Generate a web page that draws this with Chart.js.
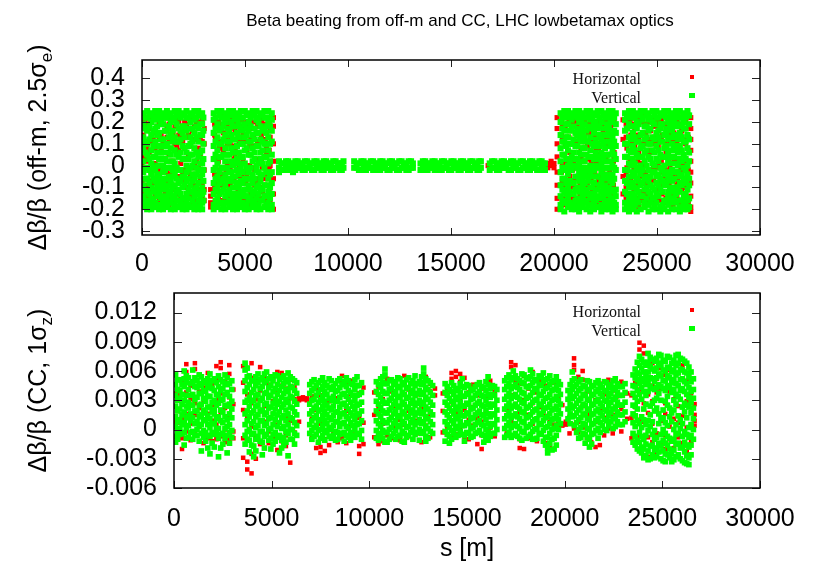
<!DOCTYPE html>
<html>
<head>
<meta charset="utf-8">
<script src="https://cdn.jsdelivr.net/npm/chart.js@4.4.1/dist/chart.umd.min.js"></script>
<style>
  html, body { margin: 0; padding: 0; background: #fff; }
  #wrap { position: relative; width: 817px; height: 571px; }
  #wrap canvas { position: absolute; left: 0; top: 0; }
</style>
</head>
<body>
<div id="wrap">
  <canvas id="offm" width="817" height="571"></canvas>
  <canvas id="cc" width="817" height="571"></canvas>
</div>
<script>
// Tick values
const xTicks = [0, 5000, 10000, 15000, 20000, 25000, 30000];
const offmTicks = [-0.3, -0.2, -0.1, 0, 0.1, 0.2, 0.3, 0.4];
const ccTicks = [-0.006, -0.003, 0, 0.003, 0.006, 0.009, 0.012];

// Off-momentum beta beating, columns of [s (m), Δβ/β in %, ...]
const offmV = [
  // arcs 81 / 12
  [60,24,19,13,8,2,-3,-9,-14,-19],[250,25,22,16,10,5,-1,-6,-12,-16,-20],[450,24,20,14,7,1,-4,-10,-15,-18,-20],
  [640,25,21,17,11,4,-2,-7,-11,-17,-19],[830,25,23,15,9,3,-5,-9,-13,-18,-20],[1020,24,19,12,6,0,-3,-8,-14,-16,-20],
  [1210,25,22,16,10,2,-6,-11,-15,-19],[1400,24,20,14,8,5,-1,-7,-12,-17,-20],[1590,25,21,13,7,1,-4,-9,-14,-18,-20],
  [1780,25,23,17,11,4,-2,-8,-11,-16,-19],[1970,24,18,15,9,3,-5,-10,-15,-18,-20],[2160,25,22,16,6,0,-3,-7,-13,-17,-20],
  [2350,24,20,13,10,5,-1,-9,-12,-19],[2540,25,21,15,8,2,-6,-11,-14,-18,-20],[2730,25,23,17,11,4,-2,-8,-16,-20],
  [2920,24,19,14,7,1,-4,-10,-13,-17,-20],
  [155,22,17,11,6,-1,-6,-11,-16,-18],[350,23,18,12,3,-2,-8,-13,-17,-19],[545,22,16,9,4,-1,-6,-12,-16],
  [735,23,18,14,6,0,-4,-9,-14,-19],[925,21,19,12,6,0,-7,-11,-15,-19],[1115,22,16,9,3,-2,-6,-10,-18],
  [1305,23,18,13,6,-1,-5,-9,-13,-17],[1495,22,16,11,2,-2,-5,-10,-15],[1685,23,19,11,5,-1,-6,-12,-16,-19],
  [1875,22,16,12,6,-2,-7,-13,-17],[2065,23,18,13,8,3,-5,-9,-15,-19],[2255,22,17,9,3,-2,-6,-11,-15,-18],
  [2445,23,17,11,5,0,-4,-7,-12,-16],[2635,22,18,13,6,-1,-4,-10,-13,-19],[2825,23,19,14,6,1,-5,-12,-14,-18],
  [2980,22,16,10,3,-2,-7,-12,-16],
  // arc 23
  [3480,24,21,15,9,3,-2,-8,-13,-18,-20],[3660,25,19,13,7,1,-5,-10,-15,-19],[3850,25,22,17,10,4,-1,-7,-12,-17,-20],
  [4040,24,20,14,8,2,-4,-9,-14,-20],[4230,25,23,16,11,5,-3,-6,-11,-16,-19],[4420,25,18,12,6,0,-5,-10,-15,-18,-20],
  [4610,24,21,15,9,3,-2,-8,-13,-17,-20],[4800,25,22,17,10,4,-1,-7,-12,-19],[4990,25,19,13,7,1,-6,-11,-14,-18,-20],
  [5180,24,20,16,11,5,-3,-9,-16,-20],[5370,25,23,14,8,2,-4,-8,-13,-17,-19],[5560,25,21,15,9,0,-2,-10,-15,-18,-20],
  [5750,24,18,12,6,3,-5,-7,-11,-16,-20],[5940,25,22,17,10,4,-1,-9,-14,-19],[6130,25,20,13,7,1,-6,-12,-17,-20],
  [6300,24,21,16,11,5,-3,-8,-13,-18,-20],
  [3570,22,17,11,5,-1,-6,-11,-16],[3755,23,16,10,4,-3,-8,-13,-17],[3945,22,19,12,5,-1,-6,-11,-17,-18],
  [4135,22,17,11,5,-1,-7,-12,-17],[4325,23,20,14,8,2,-3,-7,-13,-16],[4515,22,18,12,6,1,-5,-10,-15],
  [4705,23,19,13,6,1,-4,-10,-15,-18],[4895,22,16,10,4,-3,-8,-13,-17],[5085,23,17,14,8,-1,-6,-11,-14,-18],
  [5275,22,18,11,5,-1,-6,-11,-15],[5465,23,17,12,6,3,-6,-12,-16],[5655,22,20,15,9,1,-3,-9,-13,-18],
  [5845,23,16,11,7,1,-4,-11,-16],[6035,22,18,15,10,4,-3,-9,-14,-18],[6215,22,18,10,2,-4,-10,-15],
  // straight sections and arcs with small beating
  [6650,2,-1,-3],[6880,1,-2],[7100,2,0,-2],[7330,1,-1,-3],[7560,2,-1],[7790,1,0,-2],[8020,2,-1],[8250,1,-2],
  [8480,2,0,-1],[8710,1,-2],[8940,2,-1],[9170,1,0,-2],[9400,2,-1],[9620,1,-2],[9780,2,-1],
  [6765,1,-2],[6990,2,-1],[7215,1,-2],[7445,2,0,-2],[7675,1,-1],[7905,2,-2],[8135,1,0,-1],[8365,2,-2],
  [8595,1,-1],[8825,2,0,-2],[9055,1,-1],[9285,2,-2],[9510,1,0,-1],[9700,1,-2],
  [10300,2,-1],[10530,1,-2],[10760,2,0,-2],[10990,1,-1],[11220,2,-2],[11450,1,0,-2],[11680,2,-1],[11910,1,-2],
  [12140,2,0,-1],[12370,1,-2],[12600,2,-1],[12830,1,0,-2],[13060,2,-1],
  [10415,1,-1],[10645,2,-2],[10875,1,0,-2],[11105,2,-1],[11335,1,-1],[11565,2,0,-2],[11795,1,-1],[12025,2,-2],
  [12255,1,0,-1],[12485,2,-2],[12715,1,0,-1],[12945,2,-2],[13150,1,-1],
  [13520,1,-2],[13750,2,0,-2],[13980,1,-1],[14210,2,-2],[14440,1,0,-2],[14670,2,-1],[14900,1,-2],[15130,2,0,-1],
  [15360,1,-2],[15590,2,-1],[15820,1,0,-2],[16050,2,-1],[16280,1,-2],[16450,2,-1],
  [13635,2,-1],[13865,1,-2],[14095,2,0,-1],[14325,1,-1],[14555,2,-2],[14785,1,0,-1],[15015,2,-2],[15245,1,-1],
  [15475,2,0,-2],[15705,1,-1],[15935,2,-2],[16165,1,0,-1],[16365,2,-2],
  [16880,1,-2],[17110,2,-1],[17340,1,0,-2],[17570,2,-1],[17800,1,-2],[18030,2,0,-1],[18260,1,-2],[18490,2,-1],
  [18720,1,0,-2],[18950,2,-1],[19180,1,-2],[19400,2,0,-1],[19560,1,-2],
  [16995,2,-1],[17225,1,-2],[17455,2,0,-1],[17685,1,-1],[17915,2,-2],[18145,1,0,-1],[18375,2,-2],[18605,1,-1],
  [18835,2,0,-2],[19065,1,-1],[19290,2,-2],[19480,1,0,-1],
  // arc 78
  [20320,24,20,14,8,2,-3,-9,-14,-18,-20],[20500,25,22,16,11,5,-1,-6,-12,-17,-21],[20680,25,19,13,7,0,-4,-10,-15,-19],
  [20860,24,21,17,10,4,-2,-8,-13,-18,-20],[21040,25,23,15,9,3,-5,-11,-16,-20],[21220,25,20,12,6,1,-3,-7,-12,-17,-21],
  [21400,24,18,14,8,2,-6,-9,-14,-19],[21580,25,22,16,11,5,-1,-5,-11,-16,-20],[21760,25,21,13,7,0,-4,-10,-15,-18,-21],
  [21940,24,19,15,9,3,-2,-8,-13,-17,-20],[22120,25,23,17,10,4,-5,-11,-14,-19],[22300,25,20,12,6,1,-3,-7,-12,-18,-21],
  [22480,24,22,14,8,2,-6,-9,-16,-20],[22660,25,18,16,11,5,-1,-10,-13,-17,-20],[22840,25,21,13,7,0,-4,-8,-15,-19,-21],
  [23000,24,19,15,9,3,-2,-11,-14,-18,-20],
  [20410,22,17,11,5,-1,-6,-11,-16],[20590,23,19,13,9,3,-2,-8,-13,-17],[20770,22,16,10,2,-2,-7,-12,-17],
  [20950,23,18,12,6,0,-8,-13,-18],[21130,22,17,14,9,3,-1,-10,-15,-19],[21310,23,21,16,11,5,-1,-5,-11,-16],
  [21490,22,19,13,8,2,-3,-8,-13,-17],[21670,23,18,11,4,-2,-7,-13,-18],[21850,22,17,10,4,-1,-5,-10,-15,-19],
  [22030,23,20,12,6,0,-5,-11,-16],[22210,22,18,14,9,3,-1,-9,-15,-19],[22390,23,17,10,4,-1,-5,-10,-14],
  [22570,22,19,11,5,-1,-4,-12,-18],[22750,23,20,14,9,2,-6,-7,-11,-15],[22920,22,16,11,5,-1,-6,-12,-17],
  // arc 81 (end of ring)
  [23450,24,21,16,10,4,-2,-7,-12,-17,-20],[23640,25,19,13,7,1,-5,-10,-15,-19,-21],[23830,25,22,15,9,3,-3,-8,-13,-18,-20],
  [24020,24,20,17,11,5,-1,-6,-11,-16,-21],[24210,25,23,14,8,0,-4,-9,-14,-20],[24400,25,18,12,6,2,-6,-11,-17,-19],
  [24590,24,21,16,10,4,-2,-7,-12,-18,-21],[24780,25,20,13,7,1,-3,-10,-15,-20],[24970,25,22,15,9,3,-5,-8,-13,-17,-20],
  [25160,24,19,17,11,5,-1,-6,-11,-19,-21],[25350,25,23,14,8,0,-4,-9,-16,-20],[25540,25,20,12,6,2,-6,-12,-14,-18,-21],
  [25730,24,21,16,10,4,-2,-7,-15,-20],[25920,25,18,13,7,1,-3,-10,-13,-17,-20],[26110,25,22,15,9,3,-5,-8,-12,-19,-21],
  [26300,24,20,17,11,5,-1,-6,-14,-18,-20],[26480,25,23,14,8,0,-4,-11,-16,-20],[26560,23,19,12,6,2,-6,-9,-15,-19],
  [23545,22,17,10,4,-2,-8,-13,-18],[23735,23,18,12,6,0,-5,-10,-16],[23925,22,18,13,7,1,-4,-10,-14,-18],
  [24115,23,19,11,4,-2,-7,-12,-17],[24305,22,21,15,9,4,-2,-8,-14],[24495,23,18,13,7,0,-5,-10,-15],
  [24685,22,17,10,3,-5,-9,-13,-17],[24875,23,19,12,6,0,-3,-11,-15,-18],[25065,22,16,13,7,2,-4,-9,-14],
  [25255,23,19,11,4,-2,-7,-12,-18],[25445,22,17,15,9,4,-3,-8,-16],[25635,23,18,13,7,1,-4,-10,-12,-17],
  [25825,22,20,14,9,4,-6,-11,-15],[26015,23,19,12,6,0,-3,-10,-16],[26205,22,18,13,7,2,-4,-9,-16],
  [26390,22,17,11,3,-2,-8,-13,-17]
];
const offmH = [
  // arcs 81 / 12
  [0,10,7,4,1,-3,-8,-12,-15],[150,21,11,3,-6,-16],[350,17,6,-2,-11,-19],[545,23,12,4,-8,-15],
  [740,18,9,-1,-5,-13,-18],[930,14,7,-6,-10,-16],[1120,22,16,3,-1,-12],[1310,19,12,5,-4,-14,-19],
  [1500,15,2,-3,-9,-17],[1690,21,9,6,-5,-13],[1880,17,13,1,-7,-15,-18],[2070,20,8,-2,-10,-16],
  [2260,22,14,4,-6,-12],[2450,16,11,-1,-4,-15,-18],[2640,19,6,2,-9,-17],[2830,23,13,5,-7,-14],
  [3020,17,10,-2,-11,-16],
  [55,20,14,-1,-6,-17],[245,19,8,2,-9,-14],[440,21,11,-3,-7,-17],[640,15,8,1,-14],[835,20,12,-2,-8,-16],
  [1025,22,10,3,-11,-18],[1215,17,13,-3,-8,-13],[1405,21,11,2,-4,-15],[1595,18,10,-1,-11,-16],
  [1785,20,14,7,-5,-13],[1975,16,11,-3,-7,-17],[2165,19,13,3,-10,-15],[2355,22,9,-4,-6,-14],
  [2545,18,12,0,-9,-16],[2735,20,8,-1,-11,-18],[2925,21,11,3,-8,-15],
  // arc 23
  [3330,-11,-14,-17,-19],[3570,22,12,3,-8,-16],[3760,18,9,-2,-6,-13],[3950,23,15,6,-4,-11,-18],
  [4140,19,10,1,-9,-15],[4330,21,13,-3,-7,-17],[4520,16,8,4,-10,-14],[4710,22,11,-1,-5,-12,-19],
  [4900,18,14,2,-8,-16],[5090,20,7,-4,-11,-18],[5280,23,12,5,-6,-13],[5470,17,9,-2,-9,-15],
  [5660,21,15,3,-7,-19],[5850,19,11,-1,-12,-16],[6040,22,8,6,-5,-14],[6220,16,13,0,-9,-17],
  [6380,22,18,10,2,-6,-13,-20],
  [3525,19,14,-4,-10,-18],[3710,20,11,2,-12,-15],[3900,18,8,-4,-9,-16],[4090,21,13,-2,-6,-17],
  [4280,17,10,-1,-9,-14],[4470,20,9,3,-7,-16],[4660,18,13,-3,-11,-19],[4850,21,12,1,-5,-14],
  [5040,19,11,-3,-8,-16],[5230,17,9,0,-11,-18],[5420,20,13,-1,-7,-14],[5610,18,11,-6,-9,-17],
  [5800,21,14,3,-10,-15],[5990,19,12,-1,-6,-16],[6175,20,7,-2,-11,-17],
  // straight sections
  [16800,0],[19700,1,-1],[19860,2,0],[20000,1,-1],
  // arc 78
  [20150,22,17,10,4,-3,-9,-15,-20],[20410,19,13,1,-7,-16],[20590,23,9,-2,-11,-18],[20770,16,6,-5,-9,-14],
  [20950,21,12,2,-7,-17],[21130,18,14,-1,-10,-15],[21310,22,8,4,-4,-19],[21490,20,11,-3,-8,-13],
  [21670,17,15,3,-6,-16],[21850,23,10,-2,-12,-18],[22030,19,7,1,-9,-14],[22210,21,13,5,-5,-17],
  [22390,16,11,-4,-10,-19],[22570,22,9,2,-7,-15],[22750,18,14,-1,-11,-13],[22920,20,6,3,-6,-18],
  [20365,20,14,-3,-9,-18],[20545,18,10,1,-10,-15],[20725,21,13,-4,-7,-16],[20905,19,10,-2,-10,-15],
  [21085,20,11,0,-6,-17],[21265,17,14,-2,-9,-14],[21445,21,11,5,-11,-16],[21625,19,9,-3,-9,-15],
  [21805,20,12,2,-7,-17],[21985,18,14,-3,-10,-15],[22165,20,8,1,-7,-16],[22345,19,14,-2,-9,-15],
  [22525,20,13,3,-7,-14],[22705,17,12,-3,-9,-16],[22885,21,10,2,-9,-14],
  // arc 81 (end of ring)
  [23350,21,12,-5,-13],[23540,18,8,-1,-9,-16],[23730,22,14,2,-6,-18],[23920,17,9,-4,-9,-14],
  [24110,20,12,6,-7,-15,-19],[24300,23,15,1,-3,-12],[24490,19,10,-5,-10,-17],[24680,16,7,3,-6,-14],
  [24870,21,13,-2,-11,-18],[25060,18,9,1,-8,-16],[25250,22,14,-3,-13,-19],[25440,17,6,4,-9,-15],
  [25630,20,11,-1,-5,-17],[25820,23,15,2,-10,-13],[26010,19,8,-4,-7,-16],[26200,16,12,0,-11,-18],
  [26390,21,10,3,-6,-14],[26520,18,13,-2,-9,-17],[26640,22,17,12,7,2,-3,-8,-14,-19,-21],
  [23500,19,13,-4,-10,-15],[23690,20,10,3,-8,-17],[23880,19,11,-2,-11,-16],[24070,21,14,2,-9,-17],
  [24260,20,10,-1,-5,-16],[24450,19,15,-3,-8,-13],[24640,20,12,6,-9,-15],[24830,18,10,-1,-7,-17],
  [25020,20,11,-1,-11,-15],[25210,21,13,2,-9,-16],[25400,19,10,-2,-6,-17],[25590,18,14,1,-8,-14],
  [25780,20,12,-4,-11,-18],[25970,21,10,2,-9,-14],[26160,19,14,-2,-8,-17],[26350,20,12,1,-10,-15]
];

// Crab-cavity beta beating, columns of [s (m), Δβ/β in units of 1e-3, ...]
const ccV = [
  [80,5.6,4.6,3.5,2.4,1.3,0.3,-0.7,-1.3],[300,5.1,4.0,3.2,2.1,1.0,0.1,-0.5],[520,6.0,5.2,4.4,3.0,1.8,0.7,-0.3,-1.6],
  [740,5.3,4.1,2.8,2.2,1.4,0.4,-0.8],[960,6.1,4.9,3.6,2.5,1.2,-0.2,-1.0],[1180,5.0,4.3,3.3,1.9,0.8,0.0,-0.6],
  [1400,5.4,4.5,3.7,2.6,1.5,0.5,-0.4,-2.2],[1620,4.8,3.9,2.9,1.7,0.9,-0.3,-1.2],[1840,5.7,4.7,3.4,2.3,1.1,0.2,-0.7,-2.5],
  [2060,5.2,4.0,3.0,2.0,1.6,0.6,-0.5,-1.8],[2280,5.5,4.4,3.5,2.7,1.3,0.1,-0.9,-2.8],[2500,4.9,4.2,3.1,1.8,0.7,-0.4,-1.5],
  [2720,5.3,4.6,3.8,2.4,1.0,0.3,-0.6,-2.4],[2960,5.0,4.1,2.9,2.1,1.2,-0.1,-0.8],
  [190,5.1,4.1,3.0,1.9,0.8,-0.2,-1.0],[410,4.6,3.6,2.6,1.5,0.5,-0.4],[630,5.5,4.8,3.5,2.4,1.2,0.2,-0.9],
  [850,4.7,3.5,2.5,1.6,0.9,-0.3],[1070,5.3,4.4,3.1,1.9,0.6,-0.6],[1290,5.6,4.7,3.7,2.5,1.3,0.4,-1.2],
  [1510,5.0,4.0,3.2,2.0,1.0,-0.1,-0.8],[1730,5.2,4.3,3.4,2.3,1.4,0.5,-0.6,-1.9],[1950,5.0,4.2,2.8,1.8,0.6,-0.3,-1.4],
  [2170,4.8,3.6,2.5,1.1,0.1,-0.4],[2390,5.1,4.0,3.0,2.0,0.9,-0.5,-1.9],[2610,5.6,4.7,3.6,2.5,1.3,0.1,-0.9],
  [2840,4.7,3.4,2.6,1.6,0.5,-0.3,-1.4],

  [3640,6.8,6.1,5.0,3.9,2.8,1.6,0.5,-0.6,-1.5],[3860,5.5,4.6,3.3,2.4,1.3,0.0,-1.1,-2.3],[4080,5.0,4.1,3.0,1.9,0.8,-0.4,-1.7,-2.8],
  [4300,5.7,4.8,3.6,2.5,1.5,0.4,-0.7],[4520,5.3,4.4,3.2,2.0,0.9,-0.2,-1.3,-2.6],[4740,5.9,5.0,3.8,2.7,1.7,0.6,-0.5],
  [4960,5.4,4.5,3.5,2.3,1.2,0.1,-0.9,-2.0],[5180,5.6,4.2,3.1,2.1,1.0,-0.3,-1.2],[5400,5.1,4.0,2.9,1.8,0.7,-0.6,-2.4],
  [5620,5.5,4.7,3.7,2.6,1.4,0.3,-0.8,-1.6],[5840,5.8,4.9,3.9,2.8,1.6,0.5,-0.4,-2.7],[6060,5.2,4.3,3.3,2.2,1.1,0.0,-1.0],
  [6280,4.8,3.7,2.6,1.5,0.4,-0.6],
  [3750,6.3,5.4,4.3,3.0,1.9,0.9,-0.2,-1.0],[3970,5.0,3.8,2.9,1.7,0.6,-0.5,-1.6],[4190,5.4,4.5,3.5,2.4,1.3,0.2,-1.0,-2.2],
  [4410,5.1,4.2,3.0,1.9,0.9,-0.2,-1.2],[4630,5.7,4.8,3.7,2.6,1.5,0.4,-0.7,-1.9],[4850,5.2,4.3,3.3,2.2,1.1,0.0,-1.1],
  [5070,5.0,3.9,2.7,1.6,0.5,-0.5,-1.5],[5290,5.5,4.6,3.6,2.6,1.5,0.3,-0.8],[5510,5.3,4.4,3.3,2.3,1.2,0.1,-1.1,-1.9],
  [5730,5.1,4.1,3.1,2.0,0.9,-0.2,-1.3],[5950,5.4,4.4,3.4,2.3,1.2,0.0,-1.0],[6170,5.0,4.0,2.9,1.8,0.7,-0.4,-1.5],

  [6950,4.6,3.7,2.6,1.6,0.5,-0.4],[7170,5.1,4.2,3.1,2.2,1.2,0.2,-0.7],[7390,4.8,3.8,2.8,1.9,0.9,-0.1,-1.3],
  [7610,5.3,4.4,3.4,2.4,1.4,0.4,-0.6],[7830,4.5,3.6,2.5,1.5,0.6,-0.3],[8050,5.0,4.1,3.0,2.0,1.0,0.0,-0.9],
  [8270,4.7,3.9,2.9,1.8,0.8,-0.2,-1.1],[8490,5.2,4.3,3.3,2.3,1.3,0.3,-0.5],[8710,4.9,3.7,2.7,1.7,0.7,-0.3,-1.2],
  [8930,5.0,4.0,3.1,2.1,1.1,0.1,-0.8],[9150,4.6,3.5,2.4,1.4,0.4,-0.6],[9370,5.4,4.5,3.5,2.5,1.5,0.5,-0.4],
  [9600,4.8,3.8,2.8,1.9,0.9,-0.1,-1.0],
  [7060,4.9,4.0,3.0,1.9,0.9,-0.1,-1.0],[7280,4.5,3.5,2.4,1.4,0.4,-0.5],[7500,5.0,4.1,3.0,2.0,1.0,0.0,-0.9],
  [7720,4.8,3.9,2.9,1.9,0.9,-0.1,-1.1],[7940,5.2,4.3,3.2,2.2,1.2,0.2,-0.7],[8160,4.4,3.4,2.4,1.4,0.4,-0.6],
  [8380,5.0,4.0,2.9,1.8,0.8,-0.3,-1.0],[8600,4.6,3.6,2.6,1.6,0.6,-0.4],[8820,5.3,4.4,3.4,2.4,1.3,0.3,-0.6],
  [9040,4.7,3.8,2.8,1.7,0.7,-0.3,-1.1],[9260,5.1,4.1,3.0,2.0,1.0,0.0,-0.8],[9480,4.5,3.6,2.6,1.6,0.6,-0.5],

  [10360,4.9,3.9,2.9,1.9,0.9,-0.1,-0.9],[10580,5.2,4.3,3.3,2.3,1.3,0.3,-0.6],[10800,6.2,5.6,4.7,3.7,2.7,1.7,0.7,-0.3,-1.3],
  [11020,5.0,4.1,3.0,2.0,1.0,0.0,-1.0],[11240,4.6,3.6,2.6,1.6,0.6,-0.4],[11460,5.3,4.4,3.4,2.4,1.4,0.4,-0.7],
  [11680,4.8,3.8,2.8,1.8,0.8,-0.2,-1.2],[11900,5.1,4.2,3.2,2.2,1.2,0.2,-0.8],[12120,4.7,3.7,2.7,1.7,0.7,-0.3],
  [12340,5.5,4.5,3.5,2.5,1.5,0.5,-0.5],[12560,4.9,4.0,3.0,2.0,1.0,0.0,-1.1],[12780,6.3,5.7,4.8,3.8,2.8,1.8,0.8,-0.2],
  [13000,5.0,4.1,3.1,2.1,1.1,0.1,-0.9],[13240,4.5,3.5,2.5,1.5,0.5,-0.4],
  [10470,4.6,3.6,2.6,1.6,0.6,-0.4,-1.1],[10690,5.4,4.8,3.9,2.9,1.9,0.9,-0.1,-0.9],[10910,4.7,3.7,2.7,1.7,0.7,-0.3,-1.3],
  [11130,5.1,4.2,3.2,2.2,1.2,0.2,-0.7],[11350,4.9,3.9,2.9,1.9,0.9,-0.1,-1.0],[11570,5.2,4.3,3.3,2.3,1.3,0.3,-0.6],
  [11790,4.6,3.6,2.6,1.6,0.6,-0.4,-1.3],[12010,5.3,4.3,3.3,2.3,1.3,0.3,-0.6],[12230,5.0,4.0,3.0,2.0,1.0,0.0,-1.0],
  [12450,4.7,3.7,2.7,1.7,0.7,-0.3],[12670,5.4,4.6,3.6,2.6,1.6,0.6,-0.4],[12890,5.2,4.3,3.3,2.3,1.3,0.3,-0.7,-1.2],
  [13120,4.8,3.8,2.8,1.8,0.8,-0.2],

  [13880,4.7,3.8,2.8,1.8,0.8,-0.2,-1.2],[14100,4.1,3.2,2.2,1.2,0.2,-0.7,-1.4],[14320,4.5,3.6,2.6,1.6,0.6,-0.4],
  [14540,4.2,3.3,2.3,1.3,0.3,-0.6],[14760,5.2,4.4,3.4,2.4,1.4,0.4,-0.5],[14980,4.6,3.7,2.7,1.7,0.7,-0.3],
  [15200,4.0,3.1,2.1,1.1,0.1,-0.8],[15420,4.4,3.5,2.5,1.5,0.5,-0.4],[15640,4.8,3.9,2.9,1.9,0.9,-0.1],
  [15860,4.3,3.4,2.4,1.4,0.4,-0.6,-1.3],[16080,5.4,4.6,3.6,2.6,1.6,0.6,-0.3,-1.1],[16300,4.5,3.6,2.6,1.6,0.6,-0.4],
  [16530,4.1,3.0,2.0,1.0,0.0],
  [13990,4.4,3.5,2.5,1.5,0.5,-0.5],[14210,4.8,3.9,2.9,1.9,0.9,-0.1,-1.0],[14430,4.0,3.1,2.1,1.1,0.1,-0.8],
  [14650,4.7,3.8,2.8,1.8,0.8,-0.2],[14870,4.3,3.4,2.4,1.4,0.4,-0.6,-1.2],[15090,4.5,3.6,2.6,1.6,0.6,-0.4],
  [15310,4.1,3.2,2.2,1.2,0.2,-0.7],[15530,4.6,3.7,2.7,1.7,0.7,-0.3],[15750,4.4,3.5,2.5,1.5,0.5,-0.5],
  [15970,4.9,4.0,3.0,2.0,1.0,0.0,-0.8],[16190,4.2,3.3,2.3,1.3,0.3,-0.7],[16410,4.4,3.5,2.5,1.5,0.5,-0.4],

  [16930,5.0,4.1,3.1,2.1,1.1,0.1,-0.8],[17150,5.6,4.7,3.7,2.7,1.7,0.7,-0.3],[17370,6.0,5.3,4.4,3.4,2.4,1.4,0.4,-0.6],
  [17590,5.2,4.3,3.3,2.3,1.3,0.3,-0.7],[17810,5.7,4.8,3.8,2.8,1.8,0.8,-0.2,-1.1],[18030,5.3,4.4,3.2,2.2,1.2,0.2,-0.9],
  [18250,6.1,5.4,4.5,3.5,2.5,1.5,0.5,-0.5],[18470,5.1,4.2,3.0,2.0,1.0,0.0,-1.0],[18690,5.5,4.6,3.6,2.6,1.6,0.6,-0.4],
  [18910,5.8,4.9,3.9,2.9,1.9,0.9,-0.1,-1.2],[19130,5.2,4.3,3.3,2.3,1.3,0.3,-0.8,-1.9,-2.4],[19350,4.9,4.0,3.0,2.0,1.0,0.0,-1.0,-2.1],
  [19570,5.4,4.4,3.4,2.4,1.4,0.4,-0.6,-1.6],[19780,4.6,3.6,2.6,1.6,0.6],
  [17040,5.3,4.4,3.4,2.4,1.4,0.4,-0.6],[17260,5.1,4.2,3.2,2.2,1.2,0.2,-0.8],[17480,5.5,4.6,3.6,2.6,1.6,0.6,-0.4],
  [17700,5.0,4.1,3.1,2.1,1.1,0.1,-0.9],[17920,5.6,4.7,3.7,2.7,1.7,0.7,-0.3],[18140,5.2,4.3,3.3,2.3,1.3,0.3,-0.7],
  [18360,5.7,4.8,3.8,2.8,1.8,0.8,-0.2,-1.0],[18580,5.0,4.1,3.1,2.1,1.1,0.1,-0.9],[18800,5.4,4.5,3.5,2.5,1.5,0.5,-0.5],
  [19020,5.1,4.2,3.2,2.2,1.2,0.2,-0.8,-1.6],[19240,5.5,4.6,3.6,2.6,1.6,0.6,-0.4,-1.4],[19460,5.0,4.1,3.1,2.1,1.1,0.1,-0.9,-2.0],
  [19680,4.9,4.0,3.0,2.0,1.0,0.0],

  [20170,4.0,3.1,2.1,1.1],[20390,5.9,5.0,4.1,3.2,2.2,1.3],[20610,4.6,3.7,2.7,1.7,0.7,-0.3],
  [20830,5.1,4.2,3.2,2.2,1.2,0.2,-0.8],[21050,4.4,3.5,2.5,1.5,0.5,-0.5,-1.4],[21270,4.9,4.0,3.0,2.0,1.0,0.0,-1.0,-1.8],
  [21490,4.5,3.6,2.6,1.6,0.6,-0.4],[21710,5.0,4.1,3.1,2.1,1.1,0.1,-0.9],[21930,4.3,3.4,2.4,1.4,0.4],
  [22150,4.8,3.9,2.9,1.9,0.9,-0.1],[22370,4.6,3.7,2.8,1.8,0.8],[22590,5.2,4.3,3.3,2.3,1.3,0.3],
  [22810,4.4,3.5,2.5,1.5,0.5],[23090,4.7,3.8,2.8,1.8,0.8],
  [20280,4.6,3.6,2.6,1.6,0.6],[20500,5.2,4.4,3.4,2.4,1.4,0.4],[20720,4.9,4.0,3.0,2.0,1.0,0.0,-0.9],
  [20940,4.5,3.6,2.6,1.6,0.6,-0.4],[21160,5.0,4.1,3.1,2.1,1.1,0.1,-0.8],[21380,4.4,3.5,2.5,1.5,0.5,-0.5,-1.5],
  [21600,4.8,3.9,2.9,1.9,0.9,-0.1],[21820,4.6,3.7,2.7,1.7,0.7,-0.3],[22040,4.9,4.0,3.0,2.0,1.0,0.0],
  [22260,4.3,3.4,2.4,1.4,0.4],[22480,5.0,4.1,3.1,2.1,1.1,0.1],[22700,4.7,3.8,2.8,1.8,0.8],[22950,4.4,3.5,2.5,1.5,0.5],

  [23500,5.6,4.5,3.7,2.5,1.6,0.7,-0.4,-1.3],[23720,6.9,5.8,5.1,4.0,2.9,2.1,0.9,-1.1,-2.0],
  [23940,7.2,6.3,5.2,4.3,3.1,1.3,0.2,-0.7,-1.8,-2.4],[24160,6.6,5.4,4.6,3.5,2.6,0.5,-0.6,-1.5,-2.7],
  [24380,7.4,6.5,5.3,4.4,2.4,1.5,0.3,-1.7,-3.0],[24600,7.0,6.0,4.9,4.1,3.0,1.9,-0.1,-1.0,-2.1,-2.9],
  [24820,7.7,6.8,5.7,4.6,3.7,1.6,0.6,-1.4,-2.3],[25040,7.1,6.1,5.0,4.2,2.0,1.2,0.0,-1.1,-2.2,-3.2],
  [25260,7.5,6.4,5.5,4.5,3.4,2.5,0.4,-0.7,-1.6,-2.6],[25480,6.8,5.9,4.8,3.8,1.7,0.8,-1.2,-2.5,-3.3],
  [25700,7.6,6.6,5.6,4.7,3.6,2.6,0.5,-0.5,-1.5,-2.8],[25920,7.3,6.2,5.1,4.0,3.1,1.0,0.1,-1.9,-3.0],
  [26140,7.0,5.9,4.9,3.9,2.7,1.8,-0.2,-1.3,-2.3,-3.4],[26360,6.4,5.4,4.3,3.3,2.3,0.2,-0.8,-1.8,-2.9,-3.6],
  [26590,5.2,4.1,3.2,2.2,1.1,0.0,-1.0],
  [23610,6.2,5.3,4.4,3.3,2.4,1.4,0.3,-0.7,-1.6],[23830,7.5,6.6,5.7,4.7,3.6,0.6,-0.3,-1.3,-2.2],
  [24050,6.9,5.9,4.9,3.9,2.1,1.0,-1.0,-2.0,-2.9],[24270,7.8,6.9,5.9,4.9,3.9,0.9,-0.1,-2.2,-3.1],
  [24490,7.2,6.2,5.2,4.2,2.7,0.8,-0.5,-1.6,-2.6],[24710,7.3,6.3,5.3,4.3,3.2,2.2,-0.8,-1.9,-2.8],
  [24930,7.6,6.6,5.5,4.4,3.0,1.1,-0.5,-1.7,-3.0],[25150,7.0,6.0,5.0,4.0,2.9,0.7,-0.4,-1.4,-2.5,-3.3],
  [25370,7.4,6.3,5.3,4.3,2.2,1.3,-0.9,-2.0,-2.9],[25590,7.1,6.1,5.1,4.1,3.0,2.0,0.0,-1.0,-2.1,-3.1],
  [25810,7.7,6.8,5.8,4.5,3.4,1.4,-0.4,-1.4,-2.6],[26030,7.2,6.1,5.2,4.2,2.3,0.6,-0.7,-1.8,-3.2],
  [26250,6.8,5.8,4.7,3.6,2.5,1.2,-0.5,-1.6,-2.7,-3.5],[26470,5.9,4.9,3.9,2.8,1.7,0.5,-0.6,-1.6,-2.6]
];
const ccH = [
  [0,3.7,0.8],[190,3.6,1.9,0.7,-0.4],[410,4.8,2.6,1.2,-0.9,-2.0],[630,6.7,5.9,3.8,1.6,-0.2],[850,4.5,3.1,0.6,-1.1],
  [1070,6.8,6.2,2.7,1.5,-0.5],[1290,5.6,3.9,2.2,0.3],[1510,4.3,2.9,1.0,-0.8,-1.4],[1730,5.8,3.4,1.6,-0.9],
  [1950,4.7,2.5,0.9,-1.2],[2170,6.5,5.2,3.0,0.5,-1.0],[2390,6.9,6.3,3.7,1.8,-0.7],[2610,4.9,2.2,0.0,-1.3],
  [2830,6.6,5.7,3.3,1.4,-1.1],[3040,4.1,2.6,-0.2,-0.9],

  [3540,6.5,4.8,2.0,-0.9,-2.9],[3750,6.3,3.6,1.2,-3.3,-4.1],[3970,6.8,5.3,2.7,0.3,-2.5,-4.5],[4190,5.0,3.1,-0.7,-3.0],
  [4410,6.4,4.0,1.9,-1.5],[4630,5.5,2.4,0.8,-1.9],[4850,4.6,3.4,-0.2,-1.4],[5070,5.2,2.9,1.6,-0.9],
  [5290,5.9,3.8,0.5,-2.1],[5510,5.8,4.5,2.3,-1.2],[5730,4.2,1.3,-0.6,-1.7],[5950,5.1,3.2,0.9,-3.4],
  [6170,4.4,3.1,1.8,-0.3],[6400,3.2,3.0,0.8],[6600,3.1,3.3],[6800,3.0,3.2],

  [7060,3.4,1.1,-0.8],[7280,4.2,2.0,-0.5,-1.9],[7500,3.5,0.6,-1.8,-2.4],[7720,4.6,1.7,-1.0,-2.2],
  [7940,2.9,0.2,-1.6],[8160,4.1,1.4,-0.4,-0.9],[8380,3.2,0.8,-1.3],[8600,5.5,4.9,2.6,-0.9],
  [8820,5.3,4.6,1.9,-1.4],[9040,5.0,3.6,0.5,-1.1],[9260,4.4,2.2,-0.5],[9480,3.7,1.2,-1.7,-2.5],[9700,4.3,0.7,-1.5],

  [10250,3.8,1.5,-0.8],[10470,4.4,2.1,-1.5],[10690,3.1,0.6,-1.2],[10910,5.2,2.7,-0.6],[11130,3.9,1.3,-0.9],
  [11350,4.6,2.4,0.2],[11570,3.3,1.0,-1.1],[11790,5.5,3.6,0.5],[12010,4.1,1.9,-0.7],[12230,5.0,2.8,-1.0],
  [12450,3.6,0.9,-0.4],[12670,4.8,2.2,-1.3],[12890,5.4,3.2,0.4],[13110,4.7,3.9,1.6,-0.8],[13360,4.2,3.5],

  [13760,3.7,1.9,-0.3],[13990,4.0,2.5,0.3],[14210,5.8,5.2,2.8,-0.9],[14430,6.0,5.4,1.7,-0.5],[14650,5.7,4.9,3.0,0.1],
  [14870,5.3,2.0,-0.8],[15090,3.8,1.0,-1.0],[15310,4.6,2.3,0.4],[15530,3.5,1.2,-1.5],[15750,4.2,0.8,-0.6,-2.0],
  [15970,3.3,1.7,-1.1],[16190,5.0,4.5,2.6,0.2],[16420,3.9,1.5,-0.7],

  [17040,4.4,2.0,-0.4],[17260,6.9,6.4,3.5,0.9],[17480,6.6,5.1,2.6,-0.6],[17700,4.7,1.8,-1.0,-1.9],
  [17920,5.5,3.0,-0.3,-2.0],[18140,4.2,1.5,-0.9],[18360,5.9,2.7,0.6],[18580,3.8,1.1,-1.2],[18800,5.0,2.3,-0.5],
  [19020,4.5,1.4,-1.4],[19240,3.6,0.8,-1.7],[19460,4.8,2.1,0.5],[19680,3.4,0.7,0.3],[19880,2.5,0.6,0.4],[20060,0.8,0.5],

  [20250,1.3,0.6,-0.4],[20480,7.3,6.6,6.1,0.5,0.1],[20700,5.4,0.8,-0.3],[20920,6.0,5.1,2.4,0.2],[21140,3.9,1.6,-0.9],
  [21360,4.4,2.5,-1.3],[21580,3.0,0.8,-1.8],[21800,4.7,1.9,-1.6],[22020,3.6,1.2,-0.6],[22240,5.1,2.6,0.1],
  [22460,4.0,1.5,-0.4],[22680,3.4,0.6],[22900,4.9,2.1,-0.2],[23200,3.7,1.1],

  [23420,3.5,1.2,-0.9],[23610,4.8,2.3,0.3,-1.6],[23830,8.9,8.2,4.1,1.0,-0.7],[24050,8.6,7.8,2.7,0.8,-1.9],
  [24270,5.9,3.6,1.7,-0.8,-2.8],[24490,6.8,4.5,2.9,0.6,-1.3],[24710,5.2,3.8,1.9,-0.4,-2.4],[24930,6.3,4.2,0.9,-1.6],
  [25150,5.6,2.7,1.6,-0.6,-2.0],[25370,6.1,3.9,0.3,-1.0],[25590,4.9,3.1,1.1,-1.9],[25810,5.8,2.4,0.7,-0.8],
  [26030,6.6,4.0,1.4,-1.4],[26250,5.0,2.9,0.2,-2.2],[26470,3.7,1.8,0.5,-1.2],[26650,2.6,1.5,0.9,0.4]
];

// ---------------------------------------------------------------------------
const RED = '#ff0000';
const GREEN = '#00ff00';
const SANS = '"Liberation Sans", Arial, Helvetica, sans-serif';
const SERIF = '"Liberation Serif", "Times New Roman", serif';

function toPoints(cols, unit) {
  const pts = [];
  cols.forEach(c => {
    for (let i = 1; i < c.length; i++) pts.push({ x: c[0], y: c[i] * unit });
  });
  return pts;
}

// Frame with inward ticks, key, and the rotated y title with a subscript
const framePlugin = {
  id: 'frame',
  afterDraw(chart, args, o) {
    const { ctx, chartArea: a, scales } = chart;
    ctx.save();
    ctx.strokeStyle = '#222';
    ctx.lineWidth = 1;
    ctx.beginPath();
    scales.x.ticks.forEach(t => {
      const px = Math.round(scales.x.getPixelForValue(t.value)) + 0.5;
      ctx.moveTo(px, a.top); ctx.lineTo(px, a.top + 7);
      ctx.moveTo(px, a.bottom); ctx.lineTo(px, a.bottom - 7);
    });
    scales.y.ticks.forEach(t => {
      const py = Math.round(scales.y.getPixelForValue(t.value)) + 0.5;
      ctx.moveTo(a.left, py); ctx.lineTo(a.left + 8, py);
      ctx.moveTo(a.right, py); ctx.lineTo(a.right - 8, py);
    });
    ctx.stroke();
    ctx.strokeStyle = '#000';
    ctx.lineWidth = 1.5;
    ctx.strokeRect(a.left, a.top, a.right - a.left, a.bottom - a.top);

    // key
    ctx.fillStyle = '#111';
    ctx.font = '16px ' + SERIF;
    ctx.textAlign = 'right';
    ctx.textBaseline = 'middle';
    ctx.fillText('Horizontal', a.right - 119, a.top + 20);
    ctx.fillText('Vertical', a.right - 119, a.top + 39);
    ctx.fillStyle = RED;
    ctx.fillRect(a.right - 70, a.top + 15, 4, 4);
    ctx.fillStyle = GREEN;
    ctx.fillRect(a.right - 71, a.top + 33, 6, 5);

    // y title
    const big = '25px ' + SANS, small = '17px ' + SANS;
    ctx.fillStyle = '#000';
    ctx.translate(37, (a.top + a.bottom) / 2);
    ctx.rotate(-Math.PI / 2);
    ctx.textAlign = 'left';
    ctx.textBaseline = 'alphabetic';
    ctx.font = big;
    const w1 = ctx.measureText(o.yMain).width;
    const w3 = ctx.measureText(')').width;
    ctx.font = small;
    const w2 = ctx.measureText(o.ySub).width;
    let cx = -(w1 + w2 + w3) / 2;
    ctx.font = big; ctx.fillText(o.yMain, cx, 9); cx += w1;
    ctx.font = small; ctx.fillText(o.ySub, cx, 15); cx += w2;
    ctx.font = big; ctx.fillText(')', cx, 9);
    ctx.restore();

    ctx.save();
    ctx.fillStyle = '#000';
    ctx.textAlign = 'center';
    ctx.textBaseline = 'middle';
    if (o.title) {
      ctx.font = '17px ' + SANS;
      ctx.fillText(o.title, 460, 21);
    }
    if (o.xTitle) {
      ctx.font = '25px ' + SANS;
      ctx.fillText(o.xTitle, (a.left + a.right) / 2, a.bottom + 61);
    }
    ctx.restore();
  }
};

function panel(id, cfg) {
  const tickFont = { family: SANS, size: 25 };
  return new Chart(document.getElementById(id), {
    type: 'scatter',
    data: {
      datasets: [
        { label: 'Vertical', data: toPoints(cfg.v, cfg.unit), pointStyle: 'rect',
          pointRadius: cfg.vr, backgroundColor: GREEN, borderWidth: 0, order: 1 },
        { label: 'Horizontal', data: toPoints(cfg.h, cfg.unit), pointStyle: 'rect',
          pointRadius: cfg.hr, backgroundColor: RED, borderWidth: 0, order: 2 }
      ]
    },
    options: {
      responsive: false,
      animation: false,
      events: [],
      layout: { padding: cfg.padding },
      plugins: {
        legend: { display: false },
        tooltip: { enabled: false },
        frame: cfg.frame
      },
      scales: {
        x: {
          type: 'linear', min: 0, max: 30000,
          afterBuildTicks: s => { s.ticks = xTicks.map(v => ({ value: v })); },
          afterFit: s => { s.height = 40; },
          grid: { display: false, drawTicks: false },
          border: { display: false },
          ticks: { font: tickFont, color: '#000', padding: cfg.xPad, maxRotation: 0, autoSkip: false,
                   callback: v => String(v) }
        },
        y: {
          type: 'linear', min: cfg.ymin, max: cfg.ymax,
          afterBuildTicks: s => { s.ticks = cfg.yTicks.map(v => ({ value: v })); },
          afterFit: s => { s.width = cfg.yWidth; },
          grid: { display: false, drawTicks: false },
          border: { display: false },
          ticks: { font: tickFont, color: '#000', padding: 17, autoSkip: false,
                   callback: v => (Math.abs(v) < 1e-12 ? '0' : v.toFixed(cfg.dec)) }
        }
      }
    },
    plugins: [framePlugin]
  });
}

panel('offm', {
  v: offmV, h: offmH, unit: 0.01, vr: 4.3, hr: 3.6,
  ymin: -0.318, ymax: 0.484, yTicks: offmTicks, dec: 1, yWidth: 142, xPad: 14,
  padding: { top: 60, right: 57, left: 0, bottom: 296 },
  frame: { yMain: 'Δβ/β (off-m, 2.5σ', ySub: 'e',
           title: 'Beta beating from off-m and CC, LHC lowbetamax optics' }
});

panel('cc', {
  v: ccV, h: ccH, unit: 0.001, vr: 4.0, hr: 3.2,
  ymin: -0.006, ymax: 0.014, yTicks: ccTicks, dec: 3, yWidth: 174, xPad: 16,
  padding: { top: 293, right: 57, left: 0, bottom: 43 },
  frame: { yMain: 'Δβ/β (CC, 1σ', ySub: 'z', xTitle: 's [m]' }
});
</script>
</body>
</html>
